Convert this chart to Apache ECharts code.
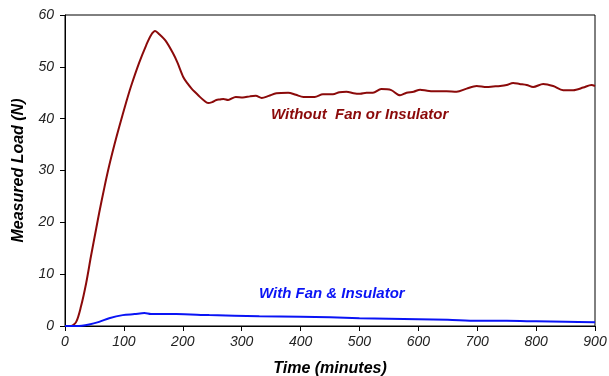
<!DOCTYPE html>
<html>
<head>
<meta charset="utf-8">
<script src="https://cdn.jsdelivr.net/npm/echarts@6/dist/echarts.min.js"></script>
<style>
  html, body { margin: 0; padding: 0; background: #fff; }
  #chart { width: 609px; height: 376px; }
</style>
</head>
<body>
<div id="chart"></div>
<script>
// time in minutes, load in N
var noFanTime = [0, 10, 19, 27, 36, 44, 53, 58, 67, 75, 84, 92, 104, 112, 126, 138, 146, 153, 160, 171, 183, 191, 201, 208, 215, 222, 229, 236, 243, 250, 257, 263, 269, 277, 290, 302, 314, 324, 334, 346, 359, 379, 392, 405, 424, 438, 455, 466, 478, 490, 501, 512, 523, 537, 554, 569, 580, 592, 603, 615, 626, 637, 648, 665, 682, 699, 716, 727, 739, 750, 761, 772, 784, 795, 812, 829, 846, 863, 880, 894, 900];
var noFanLoad = [0, 0, 0.8, 3.7, 8.3, 13.4, 18.8, 21.8, 26.8, 30.9, 35.0, 38.4, 43.2, 46.2, 50.8, 54.2, 56.1, 56.9, 56.3, 55, 52.7, 50.8, 48, 46.8, 45.8, 45, 44.2, 43.5, 43, 43.2, 43.6, 43.7, 43.8, 43.6, 44.2, 44.1, 44.3, 44.4, 44, 44.4, 44.9, 45, 44.6, 44.2, 44.2, 44.7, 44.7, 45.1, 45.2, 44.9, 44.8, 45, 45, 45.7, 45.5, 44.5, 45, 45.2, 45.6, 45.4, 45.3, 45.3, 45.3, 45.2, 45.8, 46.3, 46.1, 46.2, 46.3, 46.5, 46.9, 46.7, 46.5, 46.1, 46.7, 46.3, 45.5, 45.5, 46, 46.5, 46.3];

var fanTime = [0, 20, 41, 58, 75, 98, 118, 135, 146, 189, 245, 330, 400, 450, 500, 550, 600, 650, 700, 750, 800, 850, 900];
var fanLoad = [0, 0, 0.3, 0.8, 1.5, 2.1, 2.3, 2.5, 2.3, 2.3, 2.1, 1.9, 1.8, 1.7, 1.5, 1.4, 1.3, 1.2, 1.0, 1.0, 0.9, 0.8, 0.7];

var xTicks = [0, 100, 200, 300, 400, 500, 600, 700, 800, 900];
var yTicks = [0, 10, 20, 30, 40, 50, 60];

function pairs(xs, ys) {
  return xs.map(function (x, i) { return [x, ys[i]]; });
}

var chart = echarts.init(document.getElementById('chart'));
var labelFont = 'Liberation Sans, Arial, sans-serif';

chart.setOption({
  animation: false,
  grid: {
    left: 65, right: 14, top: 15, bottom: 50,
    outerBoundsMode: 'none',
    show: true, borderColor: '#000', borderWidth: 1, backgroundColor: '#fff'
  },
  xAxis: {
    type: 'value',
    min: xTicks[0], max: xTicks[xTicks.length - 1], interval: 100,
    name: 'Time (minutes)',
    nameLocation: 'middle',
    nameGap: 35,
    nameTextStyle: { fontFamily: labelFont, fontSize: 16, fontWeight: 'bold', fontStyle: 'italic', color: '#000' },
    axisLine: { lineStyle: { color: '#000', width: 1 } },
    axisTick: { show: true, length: 5, lineStyle: { color: '#000' } },
    axisLabel: { fontFamily: labelFont, fontSize: 14, fontStyle: 'italic', color: '#222', margin: 9 },
    splitLine: { show: false }
  },
  yAxis: {
    type: 'value',
    min: yTicks[0], max: yTicks[yTicks.length - 1], interval: 10,
    name: 'Measured Load (N)',
    nameLocation: 'middle',
    nameGap: 38,
    nameTextStyle: { fontFamily: labelFont, fontSize: 16, fontWeight: 'bold', fontStyle: 'italic', color: '#000' },
    axisLine: { show: true, lineStyle: { color: '#000', width: 1 } },
    axisTick: { show: true, length: 5, lineStyle: { color: '#000' } },
    axisLabel: { fontFamily: labelFont, fontSize: 14, fontStyle: 'italic', color: '#222', margin: 11 },
    splitLine: { show: false }
  },
  series: [
    {
      name: 'Without Fan or Insulator',
      type: 'line',
      data: pairs(noFanTime, noFanLoad),
      showSymbol: false,
      smooth: 0.3,
      lineStyle: { color: '#8b0a0a', width: 2 }
    },
    {
      name: 'With Fan & Insulator',
      type: 'line',
      data: pairs(fanTime, fanLoad),
      showSymbol: false,
      smooth: 0.3,
      lineStyle: { color: '#0a14f5', width: 2 }
    }
  ],
  graphic: [
    {
      type: 'text', left: 271, top: 107,
      style: { text: 'Without  Fan or Insulator', fontFamily: labelFont, fontSize: 15, fontWeight: 'bold', fontStyle: 'italic', fill: '#8b0a0a' }
    },
    {
      type: 'text', left: 259, top: 286,
      style: { text: 'With Fan & Insulator', fontFamily: labelFont, fontSize: 15, fontWeight: 'bold', fontStyle: 'italic', fill: '#0a14f5' }
    }
  ]
});
</script>
</body>
</html>
